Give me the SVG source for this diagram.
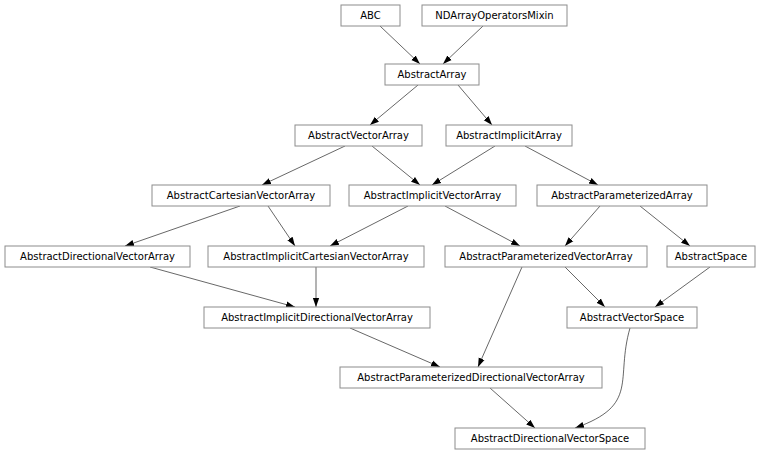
<svg xmlns="http://www.w3.org/2000/svg" width="768" height="454" viewBox="0 0 768 454">
<style>
.n rect{fill:#fff;stroke:#8c8c8c;stroke-width:1}
.n text{font-family:"DejaVu Sans",sans-serif;font-size:10px;fill:#000;text-anchor:middle;dominant-baseline:central}
#edges path{fill:none;stroke:#000;stroke-width:0.6;marker-end:url(#a)}
</style>
<defs><marker id="a" viewBox="0 0 10 10" refX="10" refY="5" markerWidth="9" markerHeight="9" markerUnits="userSpaceOnUse" orient="auto"><path d="M0,1.5L10,5L0,8.5z" fill="#000"/></marker></defs>
<rect width="768" height="454" fill="#fff"/>
<g id="edges">
<path d="M380,26L420,64"/><path d="M483,26L443,64"/>
<path d="M418,85L370,125"/><path d="M458,85L492,125"/>
<path d="M345,146L262,185"/><path d="M372,146L420,185"/>
<path d="M495,146L432,185"/><path d="M525,146L598,185"/>
<path d="M240,206L125,246"/><path d="M268,206L295,246"/>
<path d="M408,206L330,246"/><path d="M445,206L520,246"/>
<path d="M600,206L565,246"/><path d="M640,206L690,246"/>
<path d="M150,267L295,307"/><path d="M316,267L316,307"/>
<path d="M522,267L478,367"/><path d="M565,267L605,307"/>
<path d="M710,267L655,307"/>
<path d="M350,328L440,367"/>
<path d="M630,328C615,380 640,405 575,428"/>
<path d="M490,388L535,428"/>
</g>
<g id="ABC" class="n"><rect x="341" y="5" width="59" height="21"/><text x="370.5" y="15.5">ABC</text></g>
<g id="NDArrayOperatorsMixin" class="n"><rect x="422" y="5" width="145" height="21"/><text x="494.5" y="15.5">NDArrayOperatorsMixin</text></g>
<g id="AbstractArray" class="n"><rect x="385" y="64" width="94" height="21"/><text x="432" y="74.5">AbstractArray</text></g>
<g id="AbstractVectorArray" class="n"><rect x="295" y="125" width="127" height="21"/><text x="358.5" y="135.5">AbstractVectorArray</text></g>
<g id="AbstractImplicitArray" class="n"><rect x="446" y="125" width="126" height="21"/><text x="509" y="135.5">AbstractImplicitArray</text></g>
<g id="AbstractCartesianVectorArray" class="n"><rect x="152" y="185" width="178" height="21"/><text x="241" y="195.5">AbstractCartesianVectorArray</text></g>
<g id="AbstractImplicitVectorArray" class="n"><rect x="349" y="185" width="167" height="21"/><text x="432.5" y="195.5">AbstractImplicitVectorArray</text></g>
<g id="AbstractParameterizedArray" class="n"><rect x="537" y="185" width="170" height="21"/><text x="622" y="195.5">AbstractParameterizedArray</text></g>
<g id="AbstractDirectionalVectorArray" class="n"><rect x="5" y="246" width="185" height="21"/><text x="97.5" y="256.5">AbstractDirectionalVectorArray</text></g>
<g id="AbstractImplicitCartesianVectorArray" class="n"><rect x="208" y="246" width="216" height="21"/><text x="316" y="256.5">AbstractImplicitCartesianVectorArray</text></g>
<g id="AbstractParameterizedVectorArray" class="n"><rect x="445" y="246" width="202" height="21"/><text x="546" y="256.5">AbstractParameterizedVectorArray</text></g>
<g id="AbstractSpace" class="n"><rect x="667" y="246" width="88" height="21"/><text x="711" y="256.5">AbstractSpace</text></g>
<g id="AbstractImplicitDirectionalVectorArray" class="n"><rect x="204" y="307" width="226" height="21"/><text x="317" y="317.5">AbstractImplicitDirectionalVectorArray</text></g>
<g id="AbstractVectorSpace" class="n"><rect x="567" y="307" width="130" height="21"/><text x="632" y="317.5">AbstractVectorSpace</text></g>
<g id="AbstractParameterizedDirectionalVectorArray" class="n"><rect x="340" y="367" width="262" height="21"/><text x="471" y="377.5">AbstractParameterizedDirectionalVectorArray</text></g>
<g id="AbstractDirectionalVectorSpace" class="n"><rect x="455" y="428" width="190" height="21"/><text x="550" y="438.5">AbstractDirectionalVectorSpace</text></g>
</svg>
